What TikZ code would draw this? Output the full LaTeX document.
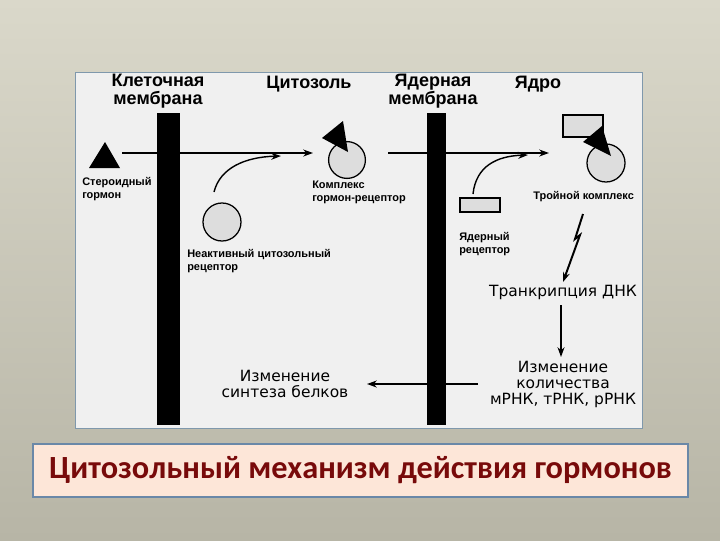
\documentclass[tikz,border=0pt]{standalone}
\usepackage{fontspec}
\setmainfont{Liberation Sans}
\newfontfamily\verdfont{DejaVu Sans}
\newfontfamily\titlefont{Carlito}
\usetikzlibrary{arrows.meta, calc}

\definecolor{bgtop}{HTML}{DAD8CA}
\definecolor{bgbot}{HTML}{B7B5A6}
\definecolor{panel}{HTML}{F0F0F0}
\definecolor{panelrim}{HTML}{7F98AC}
\definecolor{titlefill}{HTML}{FDE6D8}
\definecolor{titlerim}{HTML}{6A88A8}
\definecolor{titletext}{HTML}{780A0A}
\definecolor{ballfill}{HTML}{DDDDDD}

\tikzset{
    head/.style={font=\fontsize{12.8}{13.2}\selectfont\bfseries, align=center, inner sep=0pt},
    lbl/.style={font=\fontsize{7.8}{9}\selectfont\bfseries, align=left, inner sep=0pt, anchor=north west},
    big/.style={font=\verdfont\fontsize{11}{11.4}\selectfont, align=center, inner sep=0pt},
    ball/.style={circle, draw, line width=0.9pt, fill=ballfill, minimum size=#1, inner sep=0pt},
    recbox/.style={draw, line width=2pt, fill=ballfill, minimum width=1cm, minimum height=0.35cm, inner sep=0pt},
    arr/.style={line width=1pt, -{Stealth[length=7pt, width=5pt]}}
}

\begin{document}
\begin{tikzpicture}[x=0.025cm, y=-0.025cm]
    % background
    \shade[top color=bgtop, bottom color=bgbot] (0,0) rectangle (720,540);
    \useasboundingbox (0,0) rectangle (720,540);
    \fill[panel] (75,72) rectangle (642,428);
    \draw[panelrim, line width=0.6pt] (75,72) rectangle (642,428);

    % membranes
    \fill[black] (157,113) rectangle (180,425);
    \fill[black] (427,113) rectangle (446,425);

    % headers
    \node[head] (hcell) at (158,91) {Клеточная\\мембрана};
    \node[head] (hcyto) at (309,84) {Цитозоль};
    \node[head] (hnuc) at (433,91) {Ядерная\\мембрана};
    \node[head] (hcore) at (538,84) {Ядро};

    % hormone
    \fill (89,168) -- (105,142) -- (120,168) -- cycle;
    \node[lbl] (lhorm) at (82,177) {Стероидный\\гормон};

    % cytosolic receptor
    \node[ball=0.95cm] (rec1) at (222,222) {};
    \node[lbl] (lrec1) at (187,249) {Неактивный цитозольный\\рецептор};

    % hormone-receptor complex
    \node[ball=0.92cm] (cplx) at (347,160) {};
    \fill (322,138) -- (343,121) -- (348,152) -- cycle;
    \node[lbl] (lcplx) at (312,181) {Комплекс\\гормон-рецептор};

    % nuclear receptor
    \node[recbox] (rec2) at (480,205) {};
    \node[lbl] (lrec2) at (459,232) {Ядерный\\рецептор};

    % triple complex
    \node[ball=0.95cm] (trip) at (606,163) {};
    \node[recbox, minimum height=0.55cm] (tbox) at (583,126) {};
    \fill (583,142) -- (602,126) -- (611,156) -- cycle;
    \node[lbl, anchor=west] (ltrip) at (533,197) {Тройной комплекс};

    % lower chain
    \node[big] (dna) at (563,292) {Транкрипция ДНК};
    \node[big] (rna) at (563,384) {Изменение\\количества\\мРНК, тРНК, рРНК};
    \node[big] (prot) at (285,384) {Изменение\\синтеза белков};

    % arrow ends
    \coordinate (hstart) at (122,153);
    \coordinate (hend) at (313,153);
    \coordinate (c1a) at (214,192);
    \coordinate (c1b) at (281,156);
    \coordinate (cstart) at (388,153);
    \coordinate (cend) at (549,153);
    \coordinate (c2a) at (473,194);
    \coordinate (c2b) at (528,155);
    \coordinate (za) at (583,214);
    \coordinate (zb) at (575,239);
    \coordinate (zc) at (580,235);
    \coordinate (zd) at (563,282);
    \coordinate (da) at (561,305);
    \coordinate (db) at (561,357);
    \coordinate (pa) at (478,384);
    \coordinate (pb) at (367,384);

    % arrows
    \draw[arr] (hstart) -- (hend);
    \draw[arr] (c1a) .. controls (220,168) and (245,157) .. (c1b);
    \draw[arr] (cstart) -- (cend);
    \draw[arr] (c2a) .. controls (476,166) and (497,156) .. (c2b);
    \draw[arr, line width=1.4pt] (za) -- (zb) -- (zc) -- (zd);
    \draw[arr] (da) -- (db);
    \draw[arr] (pa) -- (pb);

    % title
    \node[draw=titlerim, line width=1.4pt, fill=titlefill, minimum width=16.375cm, minimum height=1.325cm,
          inner sep=0pt] (tbar) at (360.5,470.5) {};
    \node[font=\titlefont\fontsize{23}{26}\selectfont\bfseries, text=titletext] (ttl) at (tbar) {Цитозольный механизм действия гормонов};
\end{tikzpicture}
\end{document}
